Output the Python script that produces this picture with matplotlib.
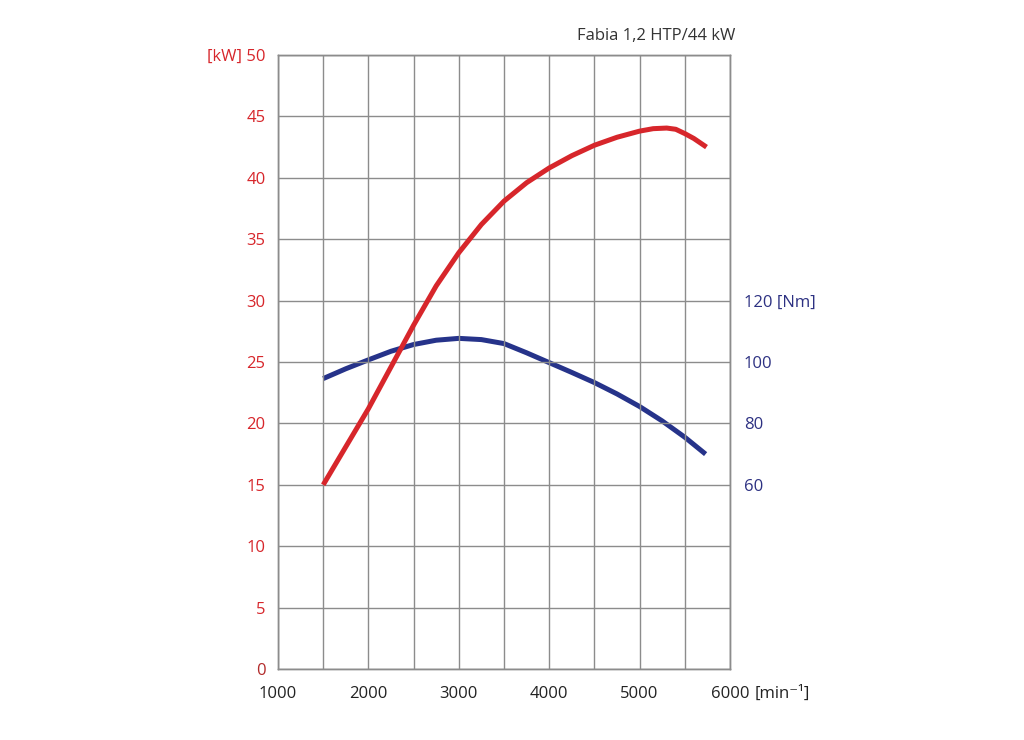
import matplotlib

matplotlib.use("Agg")
import matplotlib.pyplot as plt

plt.rcParams["font.family"] = ["Open Sans", "DejaVu Sans"]

# engine speed [min^-1]
rpm_power = [1500, 1750, 2000, 2250, 2500, 2750, 3000, 3250, 3500, 3750, 4000,
             4250, 4500, 4750, 5000, 5150, 5300, 5400, 5500, 5600, 5740]
power_kw = [15.0, 18.1, 21.2, 24.6, 28.0, 31.2, 33.9, 36.2, 38.1, 39.6, 40.8,
            41.8, 42.65, 43.3, 43.8, 44.0, 44.05, 43.95, 43.6, 43.2, 42.5]

rpm_torque = [1500, 1750, 2000, 2250, 2500, 2750, 3000, 3250, 3500, 3750, 4000,
              4250, 4500, 4750, 5000, 5250, 5500, 5730]
torque_nm = [94.6, 97.8, 100.7, 103.5, 105.7, 107.1, 107.7, 107.3, 106.0, 103.0,
             99.8, 96.6, 93.3, 89.6, 85.5, 80.8, 75.5, 70.0]

kw_ticks = [0, 5, 10, 15, 20, 25, 30, 35, 40, 45, 50]
nm_ticks = [60, 80, 100, 120]
rpm_ticks = [1000, 2000, 3000, 4000, 5000, 6000]
title = "Fabia 1,2 HTP/44 kW"

RED = "#d7262b"
BLUE = "#26338a"
NAVY_TXT = "#2d3182"
GRID = "#8c8c8c"
FS = 12

fig = plt.figure(figsize=(10.24, 7.4), dpi=100)
ax = fig.add_axes([0.2715, 0.0959, 0.4414, 0.8298])
ax2 = ax.twinx()

ax.set_xlim(1000, 6000)
ax.set_ylim(0, 50)
ax2.set_ylim(0, 200)

ax.set_xticks(range(1000, 6001, 500))
ax.set_xticklabels([str(v) if v in rpm_ticks else "" for v in range(1000, 6001, 500)])
ax.set_yticks(kw_ticks)
ax.set_yticklabels([("[kW] %d" % v) if v == 50 else str(v) for v in kw_ticks])
ax2.set_yticks(nm_ticks)
ax2.set_yticklabels([("%d [Nm]" % v) if v == 120 else str(v) for v in nm_ticks])

ax.grid(True, color=GRID, linewidth=1.0)
ax.set_axisbelow(True)
for a in (ax, ax2):
    for s in a.spines.values():
        s.set_color(GRID)
        s.set_linewidth(1.0)

ax.tick_params(axis="y", length=0, pad=9, labelsize=FS, labelcolor=RED)
ax.tick_params(axis="x", length=0, pad=12, labelsize=FS, labelcolor="#222222")
ax2.tick_params(axis="y", length=0, pad=10, labelsize=FS, labelcolor=NAVY_TXT)
ax.get_yticklabels()[0].set_color("#b22a2a")

ax2.plot(rpm_torque, torque_nm, color=BLUE, linewidth=3.6, solid_capstyle="butt",
         solid_joinstyle="round")
ax.plot(rpm_power, power_kw, color=RED, linewidth=3.6, solid_capstyle="butt",
        solid_joinstyle="round")
ax.set_zorder(ax2.get_zorder() + 1)
ax.patch.set_visible(False)

ax.text(1.012, 1.018, title, transform=ax.transAxes, ha="right", va="bottom",
        fontsize=FS, color="#333333")
ax.annotate("[min⁻¹]", xy=(6000, 0), xycoords="data", xytext=(18, -12),
            textcoords="offset points", ha="left", va="top", fontsize=FS,
            color="#222222", annotation_clip=False)

fig.savefig("out.png", dpi=100, facecolor="white")
